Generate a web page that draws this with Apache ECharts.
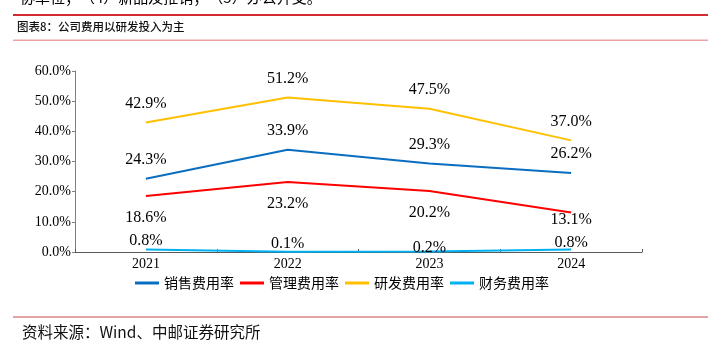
<!DOCTYPE html>
<html><head><meta charset="utf-8">
<script src="https://cdn.jsdelivr.net/npm/echarts@6/dist/echarts.min.js"></script>
<style>html,body{margin:0;padding:0;background:#fff}#c{width:728px;height:343px}</style>
</head><body><div id="c"></div>
<script>
const categories = ['2021', '2022', '2023', '2024'];
const sales = [24.3, 33.9, 29.3, 26.2];      // 销售费用率
const admin = [18.6, 23.2, 20.2, 13.1];      // 管理费用率
const rnd = [42.9, 51.2, 47.5, 37.0];        // 研发费用率
const finance = [0.8, 0.1, 0.2, 0.8];        // 财务费用率
const seriesNames = ['销售费用率', '管理费用率', '研发费用率', '财务费用率'];
const yTicks = [0, 10, 20, 30, 40, 50, 60];

const chart = echarts.init(document.getElementById('c'), null, {renderer: 'canvas'});
const serif = '"Liberation Serif", "Times New Roman", serif';
const cjk = '"Noto Sans CJK SC", sans-serif';
const fmt = p => p.value.toFixed(1) + '%';
function mk(name, data, color, pos, dist, overrides) {
  return {
    name, type: 'line', data: data.map((v, i) => overrides && overrides[i] ? Object.assign({value: v}, overrides[i]) : v),
    symbol: 'circle', symbolSize: 0.01, showSymbol: true,
    lineStyle: {color, width: 2}, itemStyle: {color},
    label: {show: true, position: pos, distance: dist, formatter: fmt, fontFamily: serif, fontSize: 16, color: '#000'},
    labelLayout: {hideOverlap: false},
    animation: false
  };
}
chart.setOption({
  animation: false,
  grid: {left: 75, right: 86, top: 71, bottom: 91, containLabel: false},
  legend: {
    data: seriesNames, top: 271, left: 130, itemWidth: 24, itemHeight: 3, itemGap: 6,
    icon: 'rect', textStyle: {fontFamily: cjk, fontSize: 14, color: '#000'}
  },
  xAxis: {
    type: 'category', data: categories, boundaryGap: true,
    axisLine: {lineStyle: {color: '#595959', width: 1}},
    axisTick: {show: true, inside: true, length: 3, lineStyle: {color: '#595959'}},
    axisLabel: {fontFamily: serif, fontSize: 14, color: '#000', margin: 5}
  },
  yAxis: {
    type: 'value', min: yTicks[0], max: yTicks[yTicks.length - 1], interval: 10,
    axisLine: {show: true, lineStyle: {color: '#7f7f7f', width: 1}},
    axisTick: {show: true, length: 3, lineStyle: {color: '#7f7f7f'}},
    splitLine: {show: false},
    axisLabel: {fontFamily: serif, fontSize: 14, color: '#000', margin: 4, formatter: v => v.toFixed(1) + '%'}
  },
  series: [
    mk(seriesNames[0], sales, '#0A6EC0', 'top', 11),
    mk(seriesNames[1], admin, '#FF0000', 'bottom', 14, {3: {label: {distance: -1}}}),
    mk(seriesNames[2], rnd, '#FFC000', 'top', 11),
    mk(seriesNames[3], finance, '#00B0F0', 'top', 1, {1: {label: {distance: 0}}, 2: {label: {distance: -4}}, 3: {label: {distance: -1}}})
  ],
  graphic: [
    {type: 'text', left: 20, top: -10, style: {text: '协单位；（4）新品及推销；（5）办公开支。', font: '15px ' + cjk, fill: '#000'}},
    {type: 'rect', shape: {x: 13, y: 14, width: 695, height: 2}, style: {fill: '#D42A32'}},
    {type: 'text', left: 17, top: 21, style: {text: '图表8：公司费用以研发投入为主', font: '500 11.5px ' + cjk, fill: '#111'}},
    {type: 'rect', shape: {x: 13, y: 39.5, width: 695, height: 1.5}, style: {fill: '#EBA3A6'}},
    {type: 'rect', shape: {x: 13, y: 316.5, width: 695, height: 1}, style: {fill: '#C8494D'}},
    {type: 'text', left: 22, top: 324, style: {text: '资料来源：Wind、中邮证券研究所', font: '15.5px ' + cjk, fill: '#111'}}
  ]
});
</script></body></html>
